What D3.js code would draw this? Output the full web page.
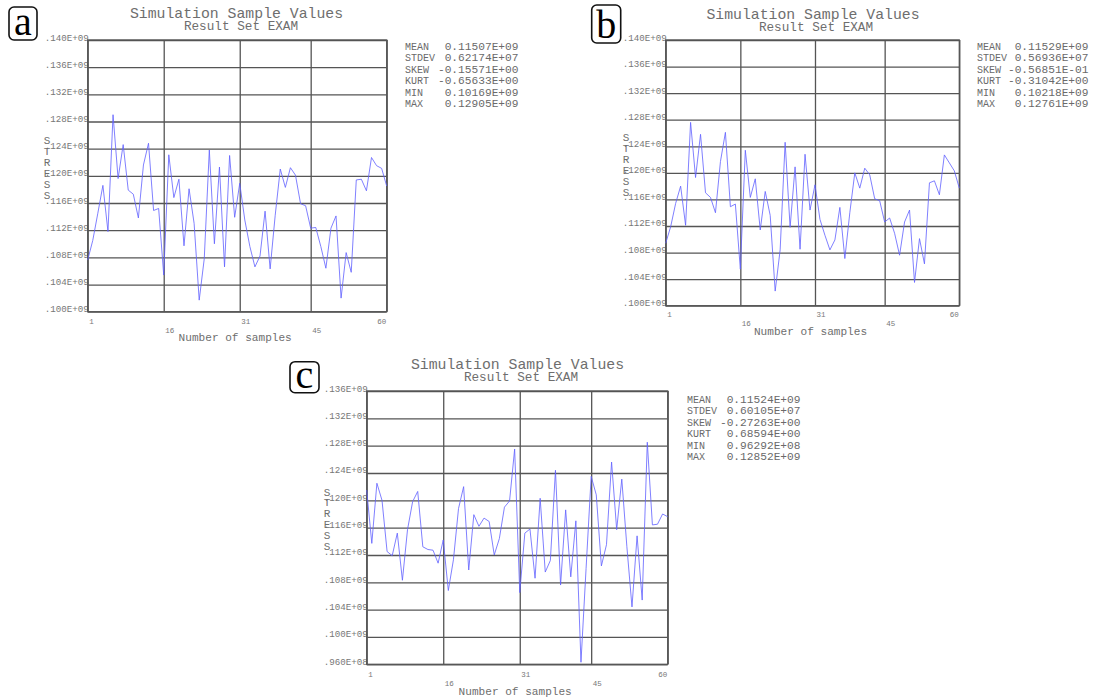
<!DOCTYPE html>
<html>
<head>
<meta charset="utf-8">
<script src="https://cdn.jsdelivr.net/npm/d3@7"></script>
<style>
  body { margin: 0; background: #fff; }
  text { font-family: "Liberation Mono", "DejaVu Sans Mono", monospace; fill: #6e6e6e; }
</style>
</head>
<body>
<svg class="chart"></svg>
<script>
// sample values, in units of 1E+06 (0.1E+09 = 100)
const samples = d3.range(1, 61);

const valuesA = [107.6, 110.5, 114.5, 118.6, 111.8, 129.0, 119.6, 124.6, 117.9, 117.3,
  113.8, 121.6, 124.8, 114.9, 115.2, 105.4, 123.1, 116.8, 119.5, 109.7,
  118.1, 113.0, 101.7, 107.8, 123.8, 110.0, 121.3, 106.6, 123.0, 113.9,
  118.9, 113.5, 109.6, 106.6, 108.2, 114.8, 106.3, 114.2, 121.0, 118.3,
  121.2, 120.1, 115.9, 115.6, 112.3, 112.4, 109.6, 106.4, 112.3, 114.1,
  102.0, 108.7, 105.8, 119.4, 119.5, 117.8, 122.7, 121.5, 121.1, 118.5];

const valuesB = [109.4, 111.9, 115.4, 118.0, 112.1, 127.6, 119.3, 125.8, 117.0, 116.3,
  114.0, 121.7, 126.1, 114.9, 115.3, 105.5, 123.4, 116.3, 119.1, 111.4,
  117.2, 113.6, 102.2, 108.4, 124.6, 111.8, 120.9, 108.5, 122.8, 114.4,
  118.2, 113.0, 110.6, 108.4, 109.9, 114.8, 107.1, 114.0, 120.0, 117.7,
  120.7, 119.7, 116.1, 115.8, 112.6, 113.2, 110.9, 107.6, 112.6, 114.4,
  103.5, 110.1, 106.3, 118.5, 118.8, 116.7, 122.7, 121.5, 120.3, 117.7];

const valuesC = [121.5, 113.7, 122.5, 120.0, 112.5, 111.9, 115.2, 108.3, 115.7, 119.8,
  121.3, 113.2, 112.8, 112.7, 110.8, 114.2, 106.8, 111.3, 118.8, 122.0,
  109.8, 117.9, 116.2, 117.4, 116.9, 112.0, 114.4, 119.0, 119.9, 127.5,
  106.5, 115.2, 115.8, 108.6, 120.3, 109.5, 111.2, 124.4, 107.6, 118.6,
  108.8, 117.0, 96.3, 110.0, 123.5, 120.8, 110.4, 113.5, 125.6, 115.7,
  123.1, 113.2, 104.4, 114.8, 105.4, 128.5, 116.4, 116.5, 118.0, 117.6];

const xTicks = [1, 16, 31, 45, 60];

const yTicksAB = [100, 104, 108, 112, 116, 120, 124, 128, 132, 136, 140];
const yLabelsAB = [".100E+09", ".104E+09", ".108E+09", ".112E+09", ".116E+09", ".120E+09",
  ".124E+09", ".128E+09", ".132E+09", ".136E+09", ".140E+09"];
const yTicksC = [96, 100, 104, 108, 112, 116, 120, 124, 128, 132, 136];
const yLabelsC = [".960E+08", ".100E+09", ".104E+09", ".108E+09", ".112E+09", ".116E+09",
  ".120E+09", ".124E+09", ".128E+09", ".132E+09", ".136E+09"];

const statNames = ["MEAN", "STDEV", "SKEW", "KURT", "MIN", "MAX"];
const statsA = ["0.11507E+09", "0.62174E+07", "-0.15571E+00", "-0.65633E+00", "0.10169E+09", "0.12905E+09"];
const statsB = ["0.11529E+09", "0.56936E+07", "-0.56851E-01", "-0.31042E+00", "0.10218E+09", "0.12761E+09"];
const statsC = ["0.11524E+09", "0.60105E+07", "-0.27263E+00", "0.68594E+00", "0.96292E+08", "0.12852E+09"];

const title = "Simulation Sample Values";
const subtitle = "Result Set EXAM";
const xTitle = "Number of samples";
const yTitle = "STRESS";

const panels = [
  {letter: "a", values: valuesA, stats: statsA, yTicks: yTicksAB, yLabels: yLabelsAB,
    left: 87.7, right: 386.7, top: 40, bottom: 311.7, box: [9, 7, 28, 33],
    titleX: 236.5, titleY: 18, subX: 241, subY: 29.5, stressX: 47, stressY: 144,
    statX: 405, statEnd: 518.5, statY: 50, tickY: 324, xTitleY: 341},
  {letter: "b", values: valuesB, stats: statsB, yTicks: yTicksAB, yLabels: yLabelsAB,
    left: 665.7, right: 959.3, top: 40, bottom: 305.7, box: [591.7, 5, 29, 38],
    titleX: 813, titleY: 19, subX: 816, subY: 30.5, stressX: 626, stressY: 141,
    statX: 977, statEnd: 1088.5, statY: 50, tickY: 317.5, xTitleY: 334.5},
  {letter: "c", values: valuesC, stats: statsC, yTicks: yTicksC, yLabels: yLabelsC,
    left: 366.7, right: 667.7, top: 391, bottom: 664.3, box: [290, 361.7, 29, 31],
    titleX: 517.5, titleY: 368.5, subX: 521, subY: 380.5, stressX: 327, stressY: 495.5,
    statX: 687, statEnd: 800.5, statY: 403, tickY: 677.5, xTitleY: 694.5}
];

const svg = d3.select(".chart")
  .attr("width", 1094)
  .attr("height", 700);

svg.append("rect")
  .attr("width", 1094)
  .attr("height", 700)
  .attr("fill", "#fff");

panels.forEach(p => {
  const g = svg.append("g");

  const x = d3.scaleLinear()
    .domain([1, 60])
    .range([p.left, p.right]);

  const y = d3.scaleLinear()
    .domain(d3.extent(p.yTicks))
    .range([p.bottom, p.top]);

  // horizontal grid + y labels
  const yAxis = d3.axisLeft(y)
    .tickValues(p.yTicks)
    .tickSize(-(p.right - p.left))
    .tickFormat((d, i) => p.yLabels[i]);

  g.append("g")
    .attr("transform", `translate(${p.left},0)`)
    .call(yAxis)
    .call(a => a.select(".domain").remove())
    .call(a => a.selectAll("line").attr("stroke", "#555").attr("stroke-width", 1.3))
    .call(a => a.selectAll("text")
      .attr("x", 1)
      .attr("dy", 0)
      .attr("font-size", 9)
      .attr("textLength", 44)
      .attr("lengthAdjust", "spacingAndGlyphs")
      .attr("text-anchor", "end")
      .style("fill", "#777"));

  // vertical grid + x labels
  const xAxis = d3.axisBottom(x)
    .tickValues(xTicks)
    .tickSize(-(p.bottom - p.top))
    .tickFormat(d3.format("d"));

  g.append("g")
    .attr("transform", `translate(0,${p.bottom})`)
    .call(xAxis)
    .call(a => a.select(".domain").remove())
    .call(a => a.selectAll("line").attr("stroke", "#555").attr("stroke-width", 1.3))
    .call(a => a.selectAll("text")
      .attr("y", (d, i) => p.tickY - p.bottom + (i % 2 ? 8.7 : 0))
      .attr("dy", 0)
      .attr("x", (d, i) => i === xTicks.length - 1 ? -1 : 1)
      .attr("text-anchor", (d, i) => i === xTicks.length - 1 ? "end" : "start")
      .attr("font-size", 7.5)
      .style("fill", "#777"));

  // frame
  g.append("rect")
    .attr("x", p.left)
    .attr("y", p.top)
    .attr("width", p.right - p.left)
    .attr("height", p.bottom - p.top)
    .attr("fill", "none")
    .attr("stroke", "#555")
    .attr("stroke-width", 1.3);

  // series
  const line = d3.line()
    .x((d, i) => x(samples[i]))
    .y(d => y(d));

  g.append("path")
    .datum(p.values)
    .attr("d", line)
    .attr("fill", "none")
    .attr("stroke", "#6262ff")
    .attr("stroke-width", 0.9)
    .attr("stroke-opacity", 0.9);

  // titles
  g.append("text")
    .attr("x", p.titleX)
    .attr("y", p.titleY)
    .attr("text-anchor", "middle")
    .attr("font-size", 14.8)
    .text(title);

  g.append("text")
    .attr("x", p.subX)
    .attr("y", p.subY)
    .attr("text-anchor", "middle")
    .attr("font-size", 12.7)
    .text(subtitle);

  g.append("text")
    .attr("x", (p.left + p.right) / 2 - 2)
    .attr("y", p.xTitleY)
    .attr("text-anchor", "middle")
    .attr("font-size", 11.1)
    .text(xTitle);

  g.selectAll(".stress")
    .data(yTitle.split(""))
    .enter()
    .append("text")
      .attr("x", p.stressX)
      .attr("y", (d, i) => p.stressY + i * 10.9)
      .attr("text-anchor", "middle")
      .attr("font-size", 11)
      .text(d => d);

  // statistics block
  const st = g.append("g")
    .selectAll("g")
    .data(statNames)
    .enter()
    .append("g")
      .attr("transform", (d, i) => `translate(0,${p.statY + i * 11.4})`);

  st.append("text")
    .attr("x", p.statX)
    .attr("font-size", 10)
    .style("fill", "#6a6a6a")
    .text(d => d);

  st.append("text")
    .attr("x", p.statEnd)
    .attr("text-anchor", "end")
    .attr("font-size", 11.2)
    .style("fill", "#6a6a6a")
    .text((d, i) => p.stats[i]);

  // panel letter
  g.append("rect")
    .attr("x", p.box[0])
    .attr("y", p.box[1])
    .attr("width", p.box[2])
    .attr("height", p.box[3])
    .attr("rx", 5)
    .attr("fill", "#fff")
    .attr("stroke", "#111")
    .attr("stroke-width", 1.6);

  g.append("text")
    .attr("x", p.box[0] + p.box[2] / 2)
    .attr("y", p.box[1] + p.box[3] - 5)
    .attr("text-anchor", "middle")
    .style("font-family", "'Liberation Serif', 'DejaVu Serif', serif")
    .attr("font-size", 40)
    .style("fill", "#000")
    .text(p.letter);
});
</script>
</body>
</html>
